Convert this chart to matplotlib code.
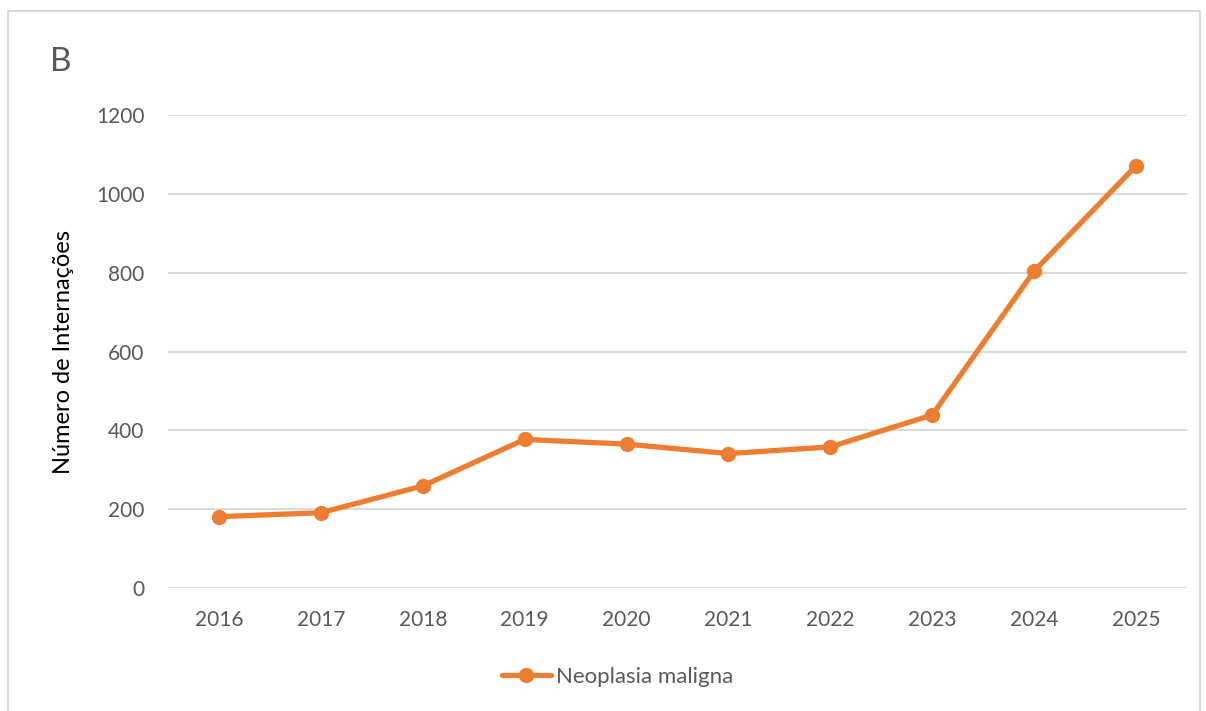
import matplotlib.pyplot as plt
from matplotlib.patches import Rectangle

years = ['2016', '2017', '2018', '2019', '2020', '2021', '2022', '2023', '2024', '2025']
internacoes = [181, 191, 259, 377, 365, 341, 358, 439, 804, 1071]
yticks = [0, 200, 400, 600, 800, 1000, 1200]

plt.rcParams['font.family'] = ['Lato', 'DejaVu Sans']

fig = plt.figure(figsize=(12.06, 7.11), dpi=100)
ax = fig.add_axes([168/1206, 123/711, 1019/1206, 473/711])

x = list(range(len(years)))
ax.plot(x, internacoes, color='#ED7D31', linewidth=3.8, marker='o',
        markersize=10, label='Neoplasia maligna', solid_capstyle='round')

ax.set_xlim(-0.5, len(years) - 0.5)
ax.set_ylim(0, 1200)
ax.set_xticks(x)
ax.set_xticklabels(years)
ax.set_yticks(yticks)
ax.tick_params(length=0, labelsize=15, colors='#595959')
ax.tick_params(axis='x', pad=16)
ax.tick_params(axis='y', pad=17)
ax.grid(axis='y', color='#d9d9d9', linewidth=1.4)
ax.set_axisbelow(True)
for s in ax.spines.values():
    s.set_visible(False)

ax.set_ylabel('Número de Internações', fontsize=17, color='black', labelpad=16)

fig.text(50/1206, 1 - 62/711, 'B', fontsize=24, color='#595959', va='center', ha='left')

fig.legend(loc='center', bbox_to_anchor=(0.512, 1 - 677/711), frameon=False,
           fontsize=16, labelcolor='#595959', handlelength=2.2, handletextpad=0.25)

fig.patches.append(Rectangle((8/1206, -0.02), 1192/1206, 1.02 - 11/711,
                             transform=fig.transFigure, fill=False,
                             edgecolor='#d9d9d9', linewidth=1.5))

fig.savefig('out.png', dpi=100)
